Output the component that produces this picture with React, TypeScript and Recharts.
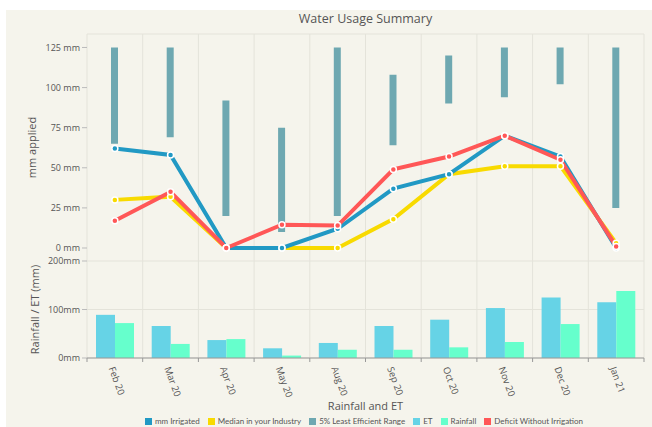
import React from 'react';
import { ComposedChart, Bar, Line, XAxis, YAxis, CartesianGrid, Legend } from 'recharts';

const months = ['Feb 20', 'Mar 20', 'Apr 20', 'May 20', 'Aug 20', 'Sep 20', 'Oct 20', 'Nov 20', 'Dec 20', 'Jan 21'];
const irrigated = [62, 58, 0, 0, 12, 37, 46, 70, 57, 0];
const median = [30, 32, 0, 0, 0, 18, 46, 51, 51, 3];
const deficit = [17, 35, 0, 14.5, 14, 49, 57, 70, 55, 1];
const rangeLow = [65, 69, 20, 10, 20, 64, 90, 94, 102, 25];
const rangeHigh = [125, 125, 92, 75, 125, 108, 120, 125, 125, 125];
const et = [89, 66, 37, 20, 31, 66, 79, 103, 125, 115];
const rainfall = [72, 29, 39, 5, 17, 17, 22, 33, 70, 138];

const mmTicks = [0, 25, 50, 75, 100, 125];
const rainTicks = [0, 100, 200];

const BLUE = '#2199C4';
const YELLOW = '#F8DA00';
const RANGE = '#6EA8B1';
const ET_COL = '#66D3E6';
const RAIN_COL = '#66FFCC';
const RED = '#FF5757';
const GRID = '#E4E3DA';
const TEXT = '#555';

const legendItems = [
  { name: 'mm Irrigated', color: BLUE },
  { name: 'Median in your Industry', color: YELLOW },
  { name: '5% Least Efficient Range', color: RANGE },
  { name: 'ET', color: ET_COL },
  { name: 'Rainfall', color: RAIN_COL },
  { name: 'Deficit Without Irrigation', color: RED },
];

const lineData = months.map((month, i) => ({
  month,
  irrigated: irrigated[i],
  median: median[i],
  deficit: deficit[i],
  range: [rangeLow[i], rangeHigh[i]],
}));

const rainData = months.map((month, i) => ({ month, et: et[i], rainfall: rainfall[i] }));

const W = 646;
const RIGHT = 8;
const AXIS_W = 81;
const BAND = (W - RIGHT - AXIS_W) / months.length;

// grid lines sit on the category edges, not the centres
const edges = ({ offset }: any) =>
  months.map((_, i) => offset.left + (i * offset.width) / months.length).concat(offset.left + offset.width);

const topEdge = ({ offset }: any) => [offset.top];

const dotStyle = (color: string) => ({ r: 3, fill: color, stroke: '#fff', strokeWidth: 1.5 });

const MonthTick = ({ x, y, payload, index }: any) => (
  <g>
    <line x1={x - BAND / 2} y1={y} x2={x - BAND / 2} y2={y + 4} stroke="#999" />
    {index === months.length - 1 && <line x1={x + BAND / 2} y1={y} x2={x + BAND / 2} y2={y + 4} stroke="#999" />}
    <text
      x={x - 3}
      y={y + 9}
      transform={`rotate(70, ${x - 3}, ${y + 9})`}
      textAnchor="start"
      dominantBaseline="central"
      fontSize={9.5}
      fill={TEXT}
    >
      {payload.value}
    </text>
  </g>
);

const LegendContent = () => (
  <div
    style={{
      display: 'flex',
      justifyContent: 'center',
      alignItems: 'center',
      height: 14,
      fontSize: 8,
      fontFamily: 'Lato, sans-serif',
      color: TEXT,
      paddingLeft: 78,
    }}
  >
    {legendItems.map((item) => (
      <span key={item.name} style={{ display: 'inline-flex', alignItems: 'center', margin: '0 4px' }}>
        <span style={{ display: 'inline-block', width: 7, height: 7, background: item.color, marginRight: 3 }} />
        {item.name}
      </span>
    ))}
  </div>
);

const tickStyle = { fontSize: 9, fill: TEXT };

export default function App() {
  return (
    <div
      style={{
        position: 'absolute',
        left: 6,
        top: 10,
        width: W,
        height: 417,
        overflow: 'hidden',
        background: '#F5F4EC',
        fontFamily: '"Open Sans", sans-serif',
      }}
    >
      <div style={{ position: 'absolute', left: AXIS_W, width: W - AXIS_W - RIGHT, top: 0, textAlign: 'center', fontSize: 12.5, lineHeight: '17px', color: TEXT }}>
        Water Usage Summary
      </div>

      <div style={{ position: 'absolute', left: 0, top: 0 }}>
        <ComposedChart width={W} height={251} data={lineData} margin={{ top: 24, right: RIGHT, left: 0, bottom: 0 }}>
          <CartesianGrid stroke={GRID} verticalCoordinatesGenerator={edges} horizontalCoordinatesGenerator={topEdge} />
          <XAxis dataKey="month" hide />
          <YAxis
            type="number"
            domain={[-8.1, 133.4]}
            ticks={mmTicks}
            allowDataOverflow
            width={AXIS_W}
            axisLine={false}
            tickLine={{ stroke: '#bbb' }}
            tickSize={5}
            tickMargin={2}
            tick={tickStyle}
            tickFormatter={(v) => `${v} mm`}
            label={{ value: 'mm applied', angle: -90, position: 'center', dx: -14, fontSize: 11, fill: TEXT }}
          />
          <Bar dataKey="range" name="5% Least Efficient Range" fill={RANGE} barSize={7} isAnimationActive={false} />
          <Line dataKey="median" name="Median in your Industry" stroke={YELLOW} strokeWidth={4} dot={dotStyle(YELLOW)} isAnimationActive={false} />
          <Line dataKey="irrigated" name="mm Irrigated" stroke={BLUE} strokeWidth={4} dot={dotStyle(BLUE)} isAnimationActive={false} />
          <Line dataKey="deficit" name="Deficit Without Irrigation" stroke={RED} strokeWidth={4} dot={dotStyle(RED)} isAnimationActive={false} />
        </ComposedChart>
      </div>

      <div style={{ position: 'absolute', left: 0, top: 241 }}>
        <ComposedChart width={W} height={177} data={rainData} barGap={0} margin={{ top: 10, right: RIGHT, left: 0, bottom: 0 }}>
          <CartesianGrid stroke={GRID} verticalCoordinatesGenerator={edges} />
          <XAxis
            dataKey="month"
            height={56}
            interval={0}
            tickLine={false}
            tickSize={0}
            tickMargin={0}
            axisLine={{ stroke: '#999' }}
            tick={<MonthTick />}
            label={{ value: 'Rainfall and ET', position: 'insideBottom', offset: 4, fontSize: 11, fill: TEXT }}
          />
          <YAxis
            type="number"
            domain={[0, 200]}
            ticks={rainTicks}
            width={AXIS_W}
            axisLine={false}
            tickLine={{ stroke: '#bbb' }}
            tickSize={5}
            tickMargin={2}
            tick={tickStyle}
            tickFormatter={(v) => `${v}mm`}
            label={{ value: 'Rainfall / ET (mm)', angle: -90, position: 'center', dx: -11, fontSize: 11, fill: TEXT }}
          />
          <Legend verticalAlign="bottom" content={() => <LegendContent />} />
          <Bar dataKey="et" name="ET" fill={ET_COL} barSize={19} isAnimationActive={false} />
          <Bar dataKey="rainfall" name="Rainfall" fill={RAIN_COL} barSize={19} isAnimationActive={false} />
        </ComposedChart>
      </div>
    </div>
  );
}
